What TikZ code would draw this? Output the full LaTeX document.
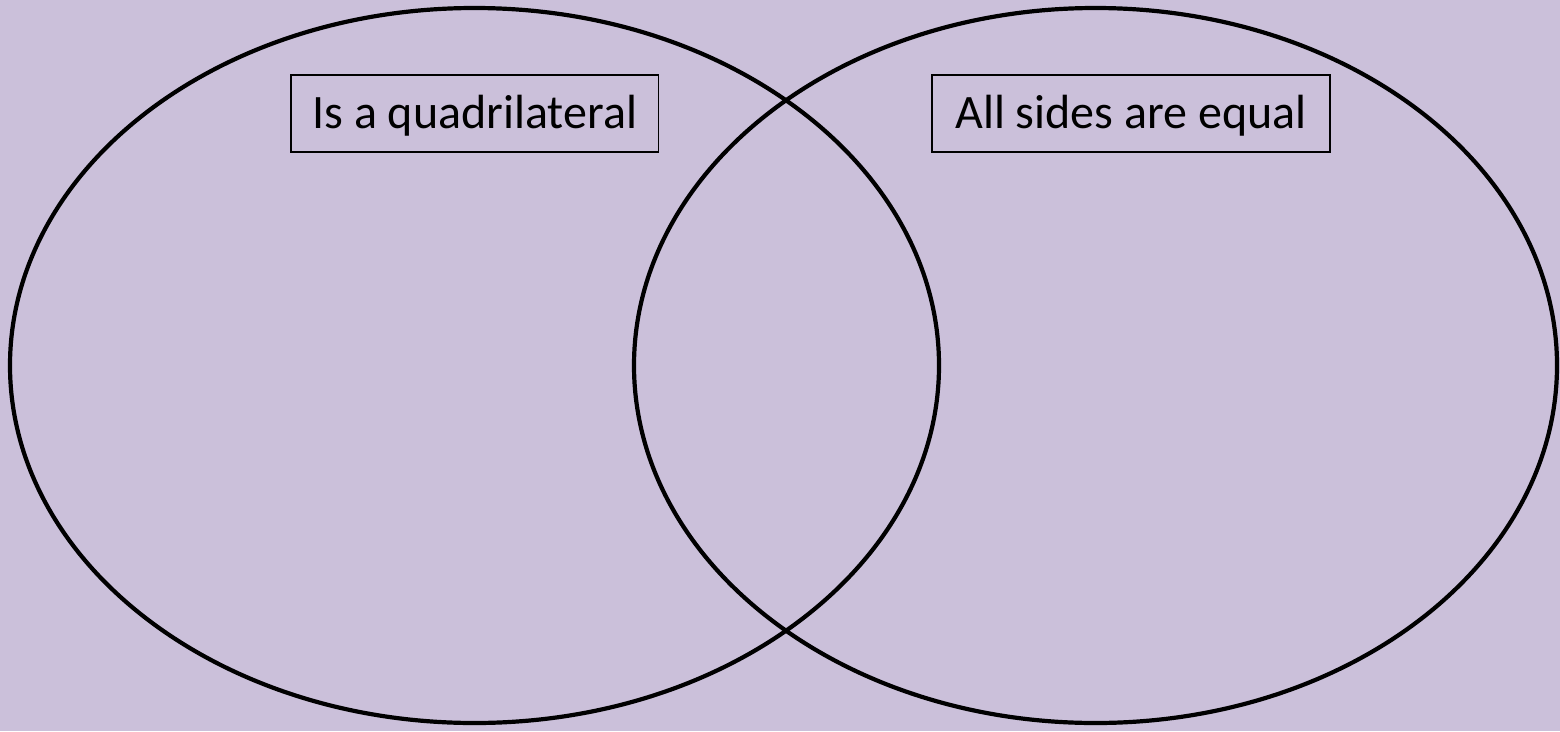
\documentclass[tikz,border=0pt]{standalone}
\usepackage{fontspec}
\setmainfont{Carlito}
\definecolor{bg}{RGB}{203,192,218}
\begin{document}
\begin{tikzpicture}[x=1pt,y=-1pt,
  setring/.style={draw=black,line width=4.2pt},
  labelbox/.style={draw=black,line width=1.1pt,minimum height=77pt,inner sep=0pt,text height=30pt,text depth=0pt,font=\fontsize{48}{52}\selectfont,text=black}]
\fill[bg] (0,0) rectangle (1560,731);
\useasboundingbox (0,0) rectangle (1560,731);
\draw[setring] (474.5,365.5) ellipse [x radius=464.5, y radius=357.5];
\draw[setring] (1095.5,365.5) ellipse [x radius=461.5, y radius=357.5];
\node[labelbox,minimum width=367.5pt] (quad) at (474.75,113.5) {Is a quadrilateral};
\node[labelbox,minimum width=398pt] (equal) at (1131,113.5) {All sides are equal};
\end{tikzpicture}
\end{document}
